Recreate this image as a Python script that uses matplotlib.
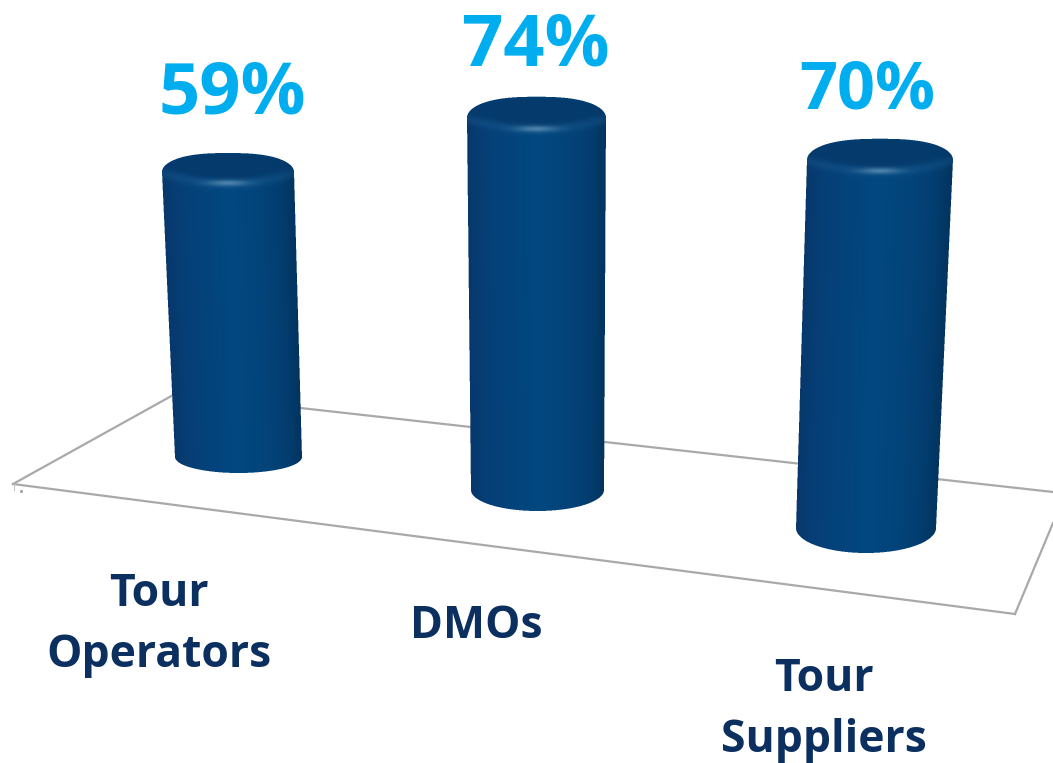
import numpy as np
import matplotlib
matplotlib.use('Agg')
import matplotlib.pyplot as plt
from matplotlib.colors import LinearSegmentedColormap, to_rgb

# data
categories = ['Tour\nOperators', 'DMOs', 'Tour\nSuppliers']
values = [59, 74, 70]

# projection of each cylinder on the floor
base_x = [238.5, 537.5, 866.0]
base_y = [457.0, 490.0, 528.0]
px_per_pct = [4.83, 5.03, 5.26]
top_shift = [-10.5, -1.0, 14.0]
base_half = [63.5, 66.5, 70.0]
top_half = [66.0, 69.5, 73.0]
ell_base = [16.0, 21.0, 25.0]
ell_top = [19.0, 21.0, 21.0]

value_pos = [(232, 95), (536, 47), (867, 91)]
value_size = [52, 52, 48]
label_pos = [(159, 625), (476, 627), (824, 710)]

floor_lines = [((13, 484), (175, 394)),
               ((13, 484), (1015, 614)),
               ((175, 394), (1053, 492)),
               ((1015, 614), (1053, 523))]

navy = '#0b2f5f'
sky = '#00aeef'

body_cmap = LinearSegmentedColormap.from_list('body', [
    (0.00, '#07386c'), (0.12, '#063f76'), (0.30, '#04437c'),
    (0.50, '#024880'), (0.72, '#03447a'), (0.90, '#033d6f'),
    (1.00, '#02345f')])


def draw_cylinder(ax, i, value):
    height = value * px_per_pct[i]
    y_top = base_y[i] - height
    cx_b, cx_t = base_x[i], base_x[i] + top_shift[i]
    hb, ht = base_half[i], top_half[i]
    eb, et = ell_base[i], ell_top[i]

    x0 = int(min(cx_b - hb, cx_t - ht)) - 3
    x1 = int(max(cx_b + hb, cx_t + ht)) + 3
    y0 = int(y_top - et) - 3
    y1 = int(base_y[i] + eb) + 3

    # 3x grid, averaged back to pixels for smooth edges
    ss = 3
    xs = x0 + (np.arange((x1 - x0) * ss) + 0.5) / ss
    ys = y0 + (np.arange((y1 - y0) * ss) + 0.5) / ss
    X, Y = np.meshgrid(xs, ys)

    t = np.clip((Y - y_top) / height, 0, 1)
    cx = cx_t + (cx_b - cx_t) * t
    half = ht + (hb - ht) * t
    u = (X - cx) / half

    inside = (np.abs(u) <= 1) & (Y >= y_top) & (Y <= base_y[i])
    inside |= (Y > base_y[i]) & ((X - cx_b) ** 2 / hb ** 2 + (Y - base_y[i]) ** 2 / eb ** 2 <= 1)
    inside |= (Y < y_top) & (np.abs((X - cx_t) / ht) ** 2.6 + np.abs((Y - y_top) / et) ** 2.0 <= 1)

    rgb = body_cmap(np.clip((u + 1) / 2, 0, 1))[..., :3]

    # darker lid fading out towards the shoulder
    r = np.sqrt(((X - cx_t) / (ht * 0.95)) ** 2 + ((Y - (y_top - 6)) / (et * 0.78)) ** 2)
    lid = np.clip((1.15 - r) / 0.4, 0, 1)[..., None]
    rgb = rgb * (1 - lid) + np.array(to_rgb('#043a6c')) * lid

    # lighter rim along the front of the lid
    rim = np.exp(-((Y - (y_top + 11 - 10 * ((X - cx_t) / ht) ** 2)) / 5.0) ** 2)[..., None] * 0.22
    rgb = rgb * (1 - rim) + np.array(to_rgb('#2a6ea3')) * rim

    # small specular highlight
    spec = np.exp(-((X - cx_t) / 20) ** 2 - ((Y - (y_top + 11)) / 3.0) ** 2)[..., None] * 0.5
    rgb = rgb * (1 - spec) + np.array(to_rgb('#8db4d0')) * spec

    rgba = np.dstack([rgb, inside.astype(float)])
    rgba[..., :3] *= rgba[..., 3:4]
    h, w = rgba.shape[:2]
    small = rgba.reshape(h // ss, ss, w // ss, ss, 4).mean(axis=(1, 3))
    a = small[..., 3:4]
    small[..., :3] = small[..., :3] / np.where(a > 0, a, 1)

    ax.imshow(small, extent=(x0, x1, y1, y0), interpolation='bilinear',
              aspect='auto', zorder=3)


fig = plt.figure(figsize=(10.53, 7.63), dpi=100)
ax = fig.add_axes([0, 0, 1, 1])

for a, b in floor_lines:
    ax.plot([a[0], b[0]], [a[1], b[1]], color='#a9a9ab', lw=1.6, zorder=1)
ax.plot([14, 14], [484, 490], color='#c4c4c4', lw=0.8, zorder=1)
ax.plot([21], [491], marker='s', ms=1, color='#999999', zorder=1)

for i, v in enumerate(values):
    draw_cylinder(ax, i, v)
    ax.text(value_pos[i][0], value_pos[i][1], '{}%'.format(v), color=sky,
            fontsize=value_size[i], fontweight='bold', family='Open Sans', ha='center',
            va='center', zorder=4)
    ax.text(label_pos[i][0], label_pos[i][1], categories[i], color=navy,
            fontsize=32, fontweight='bold', family='Open Sans', ha='center',
            va='center', linespacing=1.46, zorder=4)

ax.set_xlim(0, 1053)
ax.set_ylim(763, 0)
ax.axis('off')

fig.savefig('out.png', dpi=100)
